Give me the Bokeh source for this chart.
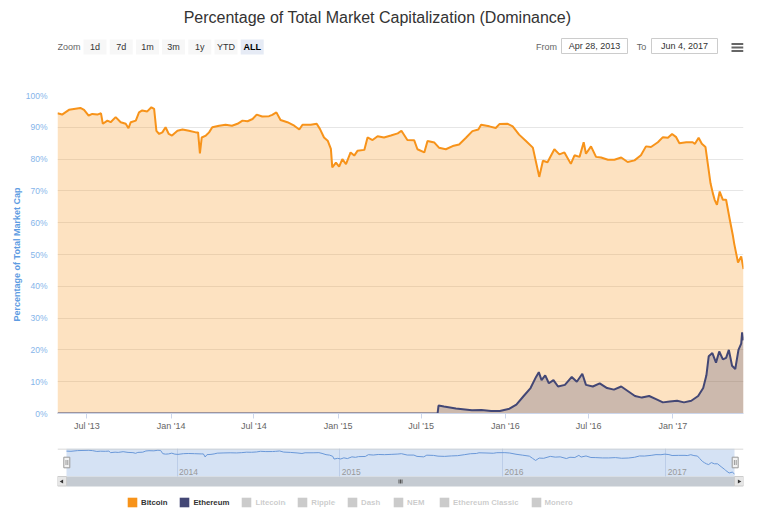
import numpy as np
from math import pi
from bokeh.plotting import figure
from bokeh.layouts import column
from bokeh.models import (Range1d, FixedTicker, CustomJSTickFormatter, Legend,
                          LegendItem, Grid)
from bokeh.core.properties import value
from bokeh.embed import file_html
from bokeh.resources import INLINE

FONT = "Liberation Sans"

# ---------------- data ----------------
btc_dates = [
    "2013-04-28", "2013-05-08", "2013-05-23", "2013-06-17", "2013-06-25", "2013-07-05",
    "2013-07-13", "2013-07-24", "2013-08-01", "2013-08-05", "2013-08-15", "2013-08-22",
    "2013-09-02", "2013-09-13", "2013-09-24", "2013-09-30", "2013-10-05", "2013-10-16",
    "2013-10-23", "2013-10-30", "2013-11-10", "2013-11-19", "2013-11-25", "2013-11-30",
    "2013-12-06", "2013-12-13", "2013-12-20", "2013-12-27", "2014-01-03", "2014-01-15",
    "2014-01-26", "2014-02-09", "2014-02-24", "2014-03-01", "2014-03-05", "2014-03-09",
    "2014-03-18", "2014-03-25", "2014-04-01", "2014-04-16", "2014-04-30", "2014-05-14",
    "2014-05-26", "2014-06-06", "2014-06-17", "2014-06-28", "2014-07-07", "2014-07-19",
    "2014-08-03", "2014-08-10", "2014-08-19", "2014-08-28", "2014-09-12", "2014-09-27",
    "2014-10-08", "2014-10-15", "2014-11-02", "2014-11-15", "2014-11-22", "2014-12-01",
    "2014-12-09", "2014-12-16", "2014-12-19", "2014-12-27", "2015-01-03", "2015-01-10",
    "2015-01-18", "2015-01-28", "2015-02-05", "2015-02-12", "2015-02-27", "2015-03-06",
    "2015-03-17", "2015-03-28", "2015-04-11", "2015-04-26", "2015-05-11", "2015-05-19",
    "2015-06-01", "2015-06-16", "2015-06-23", "2015-07-08", "2015-07-15", "2015-07-30",
    "2015-08-09", "2015-08-24", "2015-09-08", "2015-09-22", "2015-10-07", "2015-10-21",
    "2015-11-03", "2015-11-09", "2015-11-27", "2015-12-11", "2015-12-19", "2016-01-06",
    "2016-01-17", "2016-01-31", "2016-02-15", "2016-03-01", "2016-03-08", "2016-03-15",
    "2016-03-23", "2016-04-02", "2016-04-17", "2016-04-28", "2016-05-09", "2016-05-23",
    "2016-05-31", "2016-06-11", "2016-06-20", "2016-06-25", "2016-07-06", "2016-07-17",
    "2016-07-28", "2016-08-12", "2016-08-26", "2016-09-10", "2016-09-24", "2016-10-09",
    "2016-10-23", "2016-11-03", "2016-11-14", "2016-11-29", "2016-12-10", "2016-12-21",
    "2016-12-30", "2017-01-08", "2017-01-15", "2017-01-30", "2017-02-13", "2017-02-18",
    "2017-02-26", "2017-03-05", "2017-03-13", "2017-03-18", "2017-03-24", "2017-03-29",
    "2017-04-02", "2017-04-07", "2017-04-13", "2017-04-20", "2017-04-27", "2017-05-05",
    "2017-05-12", "2017-05-15", "2017-05-23", "2017-05-30", "2017-06-04",
]
btc_values = [
    94.4, 94.0, 95.5, 96.1, 95.5, 93.7,
    94.2, 94.0, 94.4, 91.1, 92.1, 91.6,
    93.2, 91.6, 91.1, 89.7, 91.6, 92.1,
    94.7, 95.3, 95.0, 96.3, 95.8, 88.9,
    87.9, 88.4, 90.0, 87.9, 87.4, 88.9,
    89.3, 88.9, 88.4, 88.4, 81.8, 86.8,
    87.4, 88.4, 90.0, 90.5, 90.8, 90.5,
    91.1, 92.1, 91.9, 92.6, 94.0, 93.4,
    93.5, 93.9, 94.7, 92.3, 91.6, 90.5,
    89.3, 90.8, 90.8, 91.1, 89.5, 86.8,
    85.8, 83.2, 77.4, 78.9, 77.6, 80.0,
    78.4, 82.1, 81.1, 82.6, 82.9, 86.8,
    86.0, 87.2, 86.8, 87.4, 88.1, 88.9,
    86.0, 85.9, 83.1, 82.1, 85.7, 85.2,
    83.6, 83.1, 84.1, 84.6, 86.7, 88.8,
    89.3, 90.8, 90.3, 89.8, 91.0, 91.1,
    90.3, 87.7, 85.7, 83.6, 79.0, 74.4,
    79.5, 79.0, 83.1, 81.5, 82.1, 78.5,
    81.2, 80.7, 85.3, 81.7, 84.0, 80.7,
    80.5, 79.8, 79.8, 80.5, 79.1, 79.6,
    81.2, 84.0, 83.8, 85.3, 86.9, 86.7,
    87.9, 86.9, 85.0, 85.3, 85.3, 84.8,
    86.7, 84.8, 83.8, 78.6, 72.4, 69.3,
    67.2, 65.6, 69.8, 67.2, 67.2, 61.0,
    55.8, 53.2, 47.5, 49.4, 45.4,
]
eth_dates = [
    "2013-04-28", "2015-08-06", "2015-08-08", "2015-08-20", "2015-09-15", "2015-10-20",
    "2015-11-10", "2015-12-01", "2015-12-20", "2016-01-10", "2016-01-25", "2016-02-10",
    "2016-02-25", "2016-03-08", "2016-03-14", "2016-03-20", "2016-03-28", "2016-04-05",
    "2016-04-15", "2016-04-25", "2016-05-10", "2016-05-25", "2016-06-05", "2016-06-17",
    "2016-06-25", "2016-07-10", "2016-07-25", "2016-08-10", "2016-08-25", "2016-09-10",
    "2016-09-25", "2016-10-10", "2016-10-25", "2016-11-10", "2016-11-25", "2016-12-10",
    "2016-12-25", "2017-01-10", "2017-01-25", "2017-02-10", "2017-02-25", "2017-03-08",
    "2017-03-15", "2017-03-20", "2017-03-28", "2017-04-05", "2017-04-12", "2017-04-20",
    "2017-04-27", "2017-05-03", "2017-05-10", "2017-05-17", "2017-05-24", "2017-05-30",
    "2017-06-01", "2017-06-04",
]
eth_values = [
    0.0, 0.0, 2.5, 2.2, 1.6, 1.0,
    1.1, 0.8, 0.8, 1.5, 2.8, 5.5,
    8.0, 11.5, 13.0, 10.5, 12.0, 9.5,
    10.5, 8.5, 9.0, 11.5, 10.0, 12.5,
    9.0, 8.5, 9.5, 8.0, 7.5, 8.5,
    7.0, 5.5, 5.0, 5.5, 4.5, 3.5,
    3.8, 4.0, 3.5, 4.0, 5.5, 8.0,
    12.0, 18.0, 19.0, 16.0, 19.5, 17.0,
    17.5, 20.0, 15.0, 14.0, 20.0, 22.0,
    25.5, 23.0,
]
y_ticks = [0, 10, 20, 30, 40, 50, 60, 70, 80, 90, 100]
x_tick_dates = ["2013-07-01", "2014-01-01", "2014-07-01", "2015-01-01",
                "2015-07-01", "2016-01-01", "2016-07-01", "2017-01-01"]
nav_year_dates = ["2014-01-01", "2015-01-01", "2016-01-01", "2017-01-01"]
nav_year_labels = ["2014", "2015", "2016", "2017"]
range_buttons = ["1d", "7d", "1m", "3m", "1y", "YTD", "ALL"]
legend_names = ["Bitcoin", "Ethereum", "Litecoin", "Ripple", "Dash", "NEM",
                "Ethereum Classic", "Monero"]
legend_shown = [True, True, False, False, False, False, False, False]

assert len(btc_dates) == len(btc_values)
assert len(eth_dates) == len(eth_values)

BTC_COLOR = "#F7931A"
ETH_COLOR = "#434775"


def ms(s):
    return float(np.datetime64(s, "ms").astype(np.int64))


btc_x = [ms(d) for d in btc_dates]
eth_x = [ms(d) for d in eth_dates]
x_start, x_end = btc_x[0], btc_x[-1]


def fmt_date(s):
    d = np.datetime64(s, "D").astype(object)
    return f"{d:%b} {d.day}, {d.year}"


# layout geometry (page pixels)
W = 768
FL, FR = 57, 743          # plot frame left / right
BL, BR = FL, W - FR       # borders

# ---------------- header (title + range selector) ----------------
HH = 78
head = figure(width=W, height=HH, x_range=Range1d(FL, FR), y_range=Range1d(HH, 0),
              toolbar_location=None, output_backend="svg",
              min_border_left=BL, min_border_right=BR, min_border_top=0, min_border_bottom=0,
              x_axis_location=None, y_axis_location=None)
head.grid.visible = False
head.outline_line_color = None

head.text(x=[377], y=[17], text=["Percentage of Total Market Capitalization (Dominance)"],
          text_font=value(FONT), text_font_size="16px", text_align="center",
          text_baseline="middle", text_color="#333333")

by = 46.5
head.text(x=[57], y=[by], text=["Zoom"], text_font=value(FONT), text_font_size="9px",
          text_align="left", text_baseline="middle", text_color="#666666")
bcx = [83 + 11.5 + i * 26.2 for i in range(len(range_buttons))]
bfill = ["#F7F7F7"] * (len(range_buttons) - 1) + ["#E6EBF5"]
head.rect(x=bcx, y=by, width=23, height=15, fill_color=bfill, line_color=None)
head.text(x=bcx[:-1], y=by, text=range_buttons[:-1], text_font=value(FONT), text_font_size="9px",
          text_align="center", text_baseline="middle", text_color="#333333")
head.text(x=bcx[-1:], y=by, text=range_buttons[-1:], text_font=value(FONT), text_font_size="9px",
          text_font_style="bold", text_align="center", text_baseline="middle", text_color="#000000")

head.text(x=[546, 641], y=by, text=["From", "To"], text_font=value(FONT),
          text_font_size="9px", text_align="center", text_baseline="middle", text_color="#666666")
head.rect(x=[594, 684], y=45.5, width=66, height=15, fill_color="white",
          line_color="#CCCCCC", line_width=1)
head.text(x=[594, 684], y=45.5, text=[fmt_date(btc_dates[0]), fmt_date(btc_dates[-1])],
          text_font=value(FONT), text_font_size="9px", text_align="center",
          text_baseline="middle", text_color="#333333")
head.segment(x0=731, x1=743, y0=[43.5, 47, 50.5], y1=[43.5, 47, 50.5],
             line_color="#666666", line_width=2)

# ---------------- main chart ----------------
p = figure(width=W, height=362, x_axis_type="datetime",
           x_range=Range1d(x_start, x_end), y_range=Range1d(0, 100),
           toolbar_location=None, output_backend="svg",
           min_border_left=BL, min_border_right=BR, min_border_top=17, min_border_bottom=27)
p.outline_line_color = None
p.xgrid.visible = False
p.ygrid.ticker = FixedTicker(ticks=y_ticks)
p.ygrid.grid_line_color = "#E6E6E6"

p.varea(x=btc_x, y1=0, y2=btc_values, fill_color=BTC_COLOR, fill_alpha=0.27)
p.line(btc_x, btc_values, line_color=BTC_COLOR, line_width=2)
p.varea(x=eth_x, y1=0, y2=eth_values, fill_color=ETH_COLOR, fill_alpha=0.26)
p.line(eth_x, eth_values, line_color=ETH_COLOR, line_width=2)

ya = p.yaxis[0]
ya.ticker = FixedTicker(ticks=y_ticks)
ya.formatter = CustomJSTickFormatter(code="return tick.toFixed(0) + '%';")
ya.major_tick_line_color = None
ya.major_tick_out = 0
ya.major_tick_in = 0
ya.minor_tick_line_color = None
ya.minor_tick_out = 0
ya.axis_line_color = None
ya.major_label_standoff = 10
ya.major_label_text_color = "#86B5EA"
ya.major_label_text_font = FONT
ya.major_label_text_font_size = "8.5px"
ya.axis_label = "Percentage of Total Market Cap"
ya.axis_label_text_color = "#5E9CE2"
ya.axis_label_text_font = FONT
ya.axis_label_text_font_size = "9px"
ya.axis_label_text_font_style = "bold"
ya.axis_label_standoff = 1

xa = p.xaxis[0]
xa.ticker = FixedTicker(ticks=[ms(d) for d in x_tick_dates])
xa.formatter = CustomJSTickFormatter(code="""
const m = ['Jan','Feb','Mar','Apr','May','Jun','Jul','Aug','Sep','Oct','Nov','Dec'];
const d = new Date(tick);
return m[d.getUTCMonth()] + " '" + String(d.getUTCFullYear()).slice(2);
""")
xa.axis_line_color = "#CCD6EB"
xa.major_tick_line_color = "#CCD6EB"
xa.major_tick_out = 5
xa.major_tick_in = 0
xa.minor_tick_line_color = None
xa.minor_tick_out = 0
xa.major_label_standoff = 2
xa.major_label_text_color = "#666666"
xa.major_label_text_font = FONT
xa.major_label_text_font_size = "9px"

# ---------------- navigator + scrollbar + legend ----------------
NT, NB = 448, 511                     # frame top / bottom (page px)
AREA_L, AREA_R, AREA_B = 66, 734, 476  # navigator series area
SB_B = 486                            # scrollbar bottom
nav = figure(width=W, height=NB - 440, x_range=Range1d(FL, FR), y_range=Range1d(NB, NT),
             toolbar_location=None, output_backend="svg",
             min_border_left=BL, min_border_right=BR, min_border_top=NT - 440, min_border_bottom=0,
             x_axis_location=None, y_axis_location=None)
nav.grid.visible = False
nav.outline_line_color = None

per_px = (x_end - x_start) / (AREA_R - AREA_L)
nav_lo, nav_hi = 40.0, 100.0
per_py = (nav_hi - nav_lo) / (AREA_B - NT)
nav.extra_x_ranges = {"navx": Range1d(x_start - (AREA_L - FL) * per_px, x_end + (FR - AREA_R) * per_px)}
nav.extra_y_ranges = {"navy": Range1d(nav_lo - (NB - AREA_B) * per_py, nav_hi)}

# selected-range mask
nav.quad(left=AREA_L, right=AREA_R, top=NT, bottom=AREA_B, fill_color="#D5E2F4",
         line_color=None, level="image")
g = Grid(dimension=0, ticker=FixedTicker(ticks=[ms(d) for d in nav_year_dates]),
         x_range_name="navx", y_range_name="navy", cross_bounds=(nav_lo, nav_hi),
         grid_line_color="#BCCDE8", grid_line_width=1)
nav.add_layout(g, "center")
nav.line(btc_x, btc_values, x_range_name="navx", y_range_name="navy",
         line_color="#6A98D8", line_width=1)
nav.text(x=[ms(d) for d in nav_year_dates], y=471, text=nav_year_labels, x_range_name="navx",
         x_offset=2, text_font=value(FONT), text_font_size="8.5px", text_align="left",
         text_baseline="middle", text_color="#999999")
nav.segment(x0=FL, x1=FR, y0=NT + 0.5, y1=NT + 0.5, line_color="#CCCCCC", line_width=1)

# handles
nav.quad(left=[63.3, 731.7], right=[69.3, 737.7], top=456.7, bottom=467.3,
         fill_color="#F2F2F2", line_color="#999999", line_width=1)
nav.segment(x0=[65.5, 67.3, 733.9, 735.7], x1=[65.5, 67.3, 733.9, 735.7], y0=459.5, y1=464.5,
            line_color="#999999", line_width=1)

# scrollbar
nav.quad(left=AREA_L, right=AREA_R, top=AREA_B, bottom=SB_B, fill_color="#C5CBD2", line_color=None)
nav.quad(left=[FL, AREA_R], right=[AREA_L, FR], top=AREA_B, bottom=SB_B - 0.5,
         fill_color="#E6E6E6", line_color="#CCCCCC", line_width=1)
nav.scatter(x=[61.5, 738.5], y=481, marker="triangle", size=4, angle=[pi / 2, -pi / 2],
            fill_color="#333333", line_color=None)
nav.segment(x0=[398.5, 400, 401.5], x1=[398.5, 400, 401.5], y0=479, y1=483,
            line_color="#555555", line_width=1)

# legend (proxy renderers with no drawable geometry; hidden series greyed out)
items = []
nan1 = np.array([np.nan])
for name, shown in zip(legend_names, legend_shown):
    col = BTC_COLOR if name == "Bitcoin" else (ETH_COLOR if name == "Ethereum" else "#333333")
    r = nav.quad(left=nan1, right=nan1, top=nan1, bottom=nan1, fill_color=col, line_color=None,
                 visible=shown)
    items.append(LegendItem(label=name, renderers=[r]))
legend = Legend(items=items, orientation="horizontal", location=(126 - FL, 3), click_policy="hide",
                label_text_font=FONT, label_text_font_size="7.8px", label_text_font_style="bold",
                label_text_color="#333333", glyph_width=12, glyph_height=12, label_standoff=3,
                spacing=11, padding=0, margin=0, label_height=10, border_line_color=None,
                background_fill_alpha=0, inactive_fill_color="white", inactive_fill_alpha=0.75)
nav.add_layout(legend, "center")

layout = column(head, p, nav, spacing=0)
open("out.html", "w").write(file_html(layout, INLINE))
